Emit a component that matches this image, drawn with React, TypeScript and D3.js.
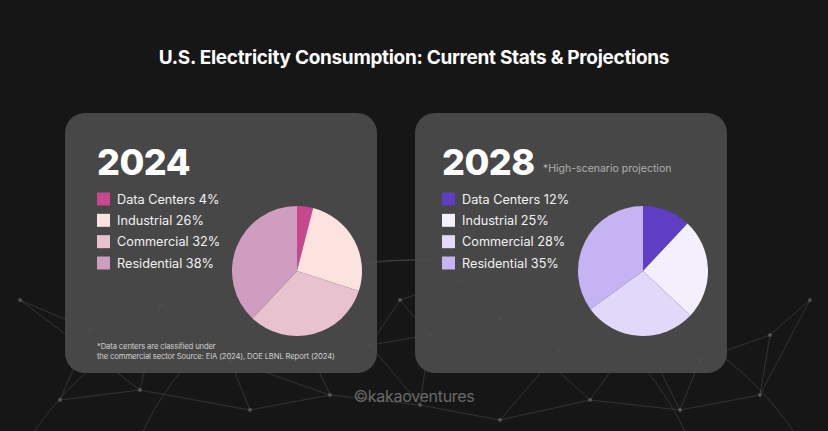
import React from 'react';
import * as d3 from 'd3';

const sectors = ['Data Centers', 'Industrial', 'Commercial', 'Residential'];
const share2024 = [4, 26, 32, 38];
const share2028 = [12, 25, 28, 35];
const colors2024 = ['#c9478f', '#fde3df', '#e8c2cf', '#cf9dc0'];
const colors2028 = ['#5f3ec4', '#f3effc', '#e1d8fa', '#c6b3f3'];

// faint globe network in the background (decoration only)
const netNodes: [number, number][] = [
  [20, 300], [90, 330], [160, 305], [230, 360], [300, 330], [370, 345],
  [430, 335], [500, 318], [560, 350], [640, 330], [700, 360], [770, 335],
  [810, 300], [60, 400], [140, 390], [250, 410], [330, 395], [420, 405],
  [500, 420], [590, 400], [680, 410], [760, 395], [400, 300], [460, 280],
];
const netLinks: [number, number][] = [
  [0, 1], [1, 2], [2, 3], [3, 4], [4, 5], [5, 6], [6, 7], [7, 8], [8, 9],
  [9, 10], [10, 11], [11, 12], [13, 14], [14, 15], [15, 16], [16, 17],
  [17, 18], [18, 19], [19, 20], [20, 21], [1, 13], [2, 14], [3, 15], [4, 16],
  [6, 17], [8, 18], [9, 19], [10, 20], [11, 21], [22, 6], [23, 7], [22, 5],
  [0, 14], [12, 21], [5, 17], [7, 19], [3, 16], [9, 20], [22, 23], [2, 4],
];

const W = 828;
const H = 431;

interface PanelProps {
  x: number;
  pad: number;
  pieX: number;
  year: string;
  values: number[];
  colors: string[];
  note?: string;
  footnote?: string[];
}

const Panel: React.FC<PanelProps> = ({ x, pad, pieX, year, values, colors, note, footnote }) => {
  const pie = d3.pie<number>().sort(null).value(d => d)(values);
  const arc = d3.arc<d3.PieArcDatum<number>>().innerRadius(0).outerRadius(65);
  const rowY = d3.scalePoint<string>().domain(sectors).range([199, 263]);

  return (
    <g transform={`translate(${x},113)`}>
      <rect width={312} height={260} rx={20} fill="#4b4b4b" fillOpacity={0.93} />
      <text x={pad} y={62} fontSize={36} fontWeight={800} fill="#ffffff" letterSpacing={-0.5}>
        {year}
      </text>
      {note && (
        <text x={128} y={59} fontSize={10.5} fill="#b0b0b0">{note}</text>
      )}
      {sectors.map((s, i) => (
        <g key={s} transform={`translate(${pad},${(rowY(s) as number) - 113})`}>
          <rect x={0} y={-6.5} width={13} height={13} fill={colors[i]} />
          <text x={20} y={0} dy="0.36em" fontSize={12.7} fill="#f2f2f2">
            {`${s} ${values[i]}%`}
          </text>
        </g>
      ))}
      <g transform={`translate(${pieX},158)`}>
        {pie.map((p, i) => (
          <path key={i} d={arc(p) || ''} fill={colors[i]} />
        ))}
      </g>
      {footnote && footnote.map((line, i) => (
        <text key={i} x={pad} y={236 + i * 10} fontSize={7.7} fill="#d0d0d0" letterSpacing={-0.15}>
          {line}
        </text>
      ))}
    </g>
  );
};

const App: React.FC = () => {
  return (
    <svg
      width={W}
      height={H}
      style={{ position: 'absolute', left: 0, top: 0, fontFamily: 'Inter, sans-serif' }}
    >
      <rect width={W} height={H} fill="#161616" />
      <g stroke="#8a8a8a" strokeOpacity={0.35} strokeWidth={0.7} fill="none">
        {netLinks.map(([a, b], i) => (
          <line key={i} x1={netNodes[a][0]} y1={netNodes[a][1]} x2={netNodes[b][0]} y2={netNodes[b][1]} />
        ))}
        <ellipse cx={414} cy={560} rx={420} ry={300} />
        <ellipse cx={414} cy={560} rx={300} ry={300} />
      </g>
      <g fill="#8a8a8a" fillOpacity={0.45}>
        {netNodes.map(([nx, ny], i) => (
          <circle key={i} cx={nx} cy={ny} r={2} />
        ))}
      </g>
      <text x={414} y={64} textAnchor="middle" fontSize={19} fontWeight={700} fill="#ffffff" letterSpacing={-0.3}>
        U.S. Electricity Consumption: Current Stats &amp; Projections
      </text>
      <Panel
        x={65}
        pad={32}
        pieX={232}
        year="2024"
        values={share2024}
        colors={colors2024}
        footnote={[
          '*Data centers are classified under',
          'the commercial sector Source: EIA (2024), DOE LBNL Report (2024)',
        ]}
      />
      <Panel
        x={415}
        pad={27}
        pieX={228}
        year="2028"
        values={share2028}
        colors={colors2028}
        note="*High-scenario projection"
      />
      <text x={414} y={402} textAnchor="middle" fontSize={16} fill="#6a6a6a" letterSpacing={-0.3}>
        ©kakaoventures
      </text>
    </svg>
  );
};

export default App;
